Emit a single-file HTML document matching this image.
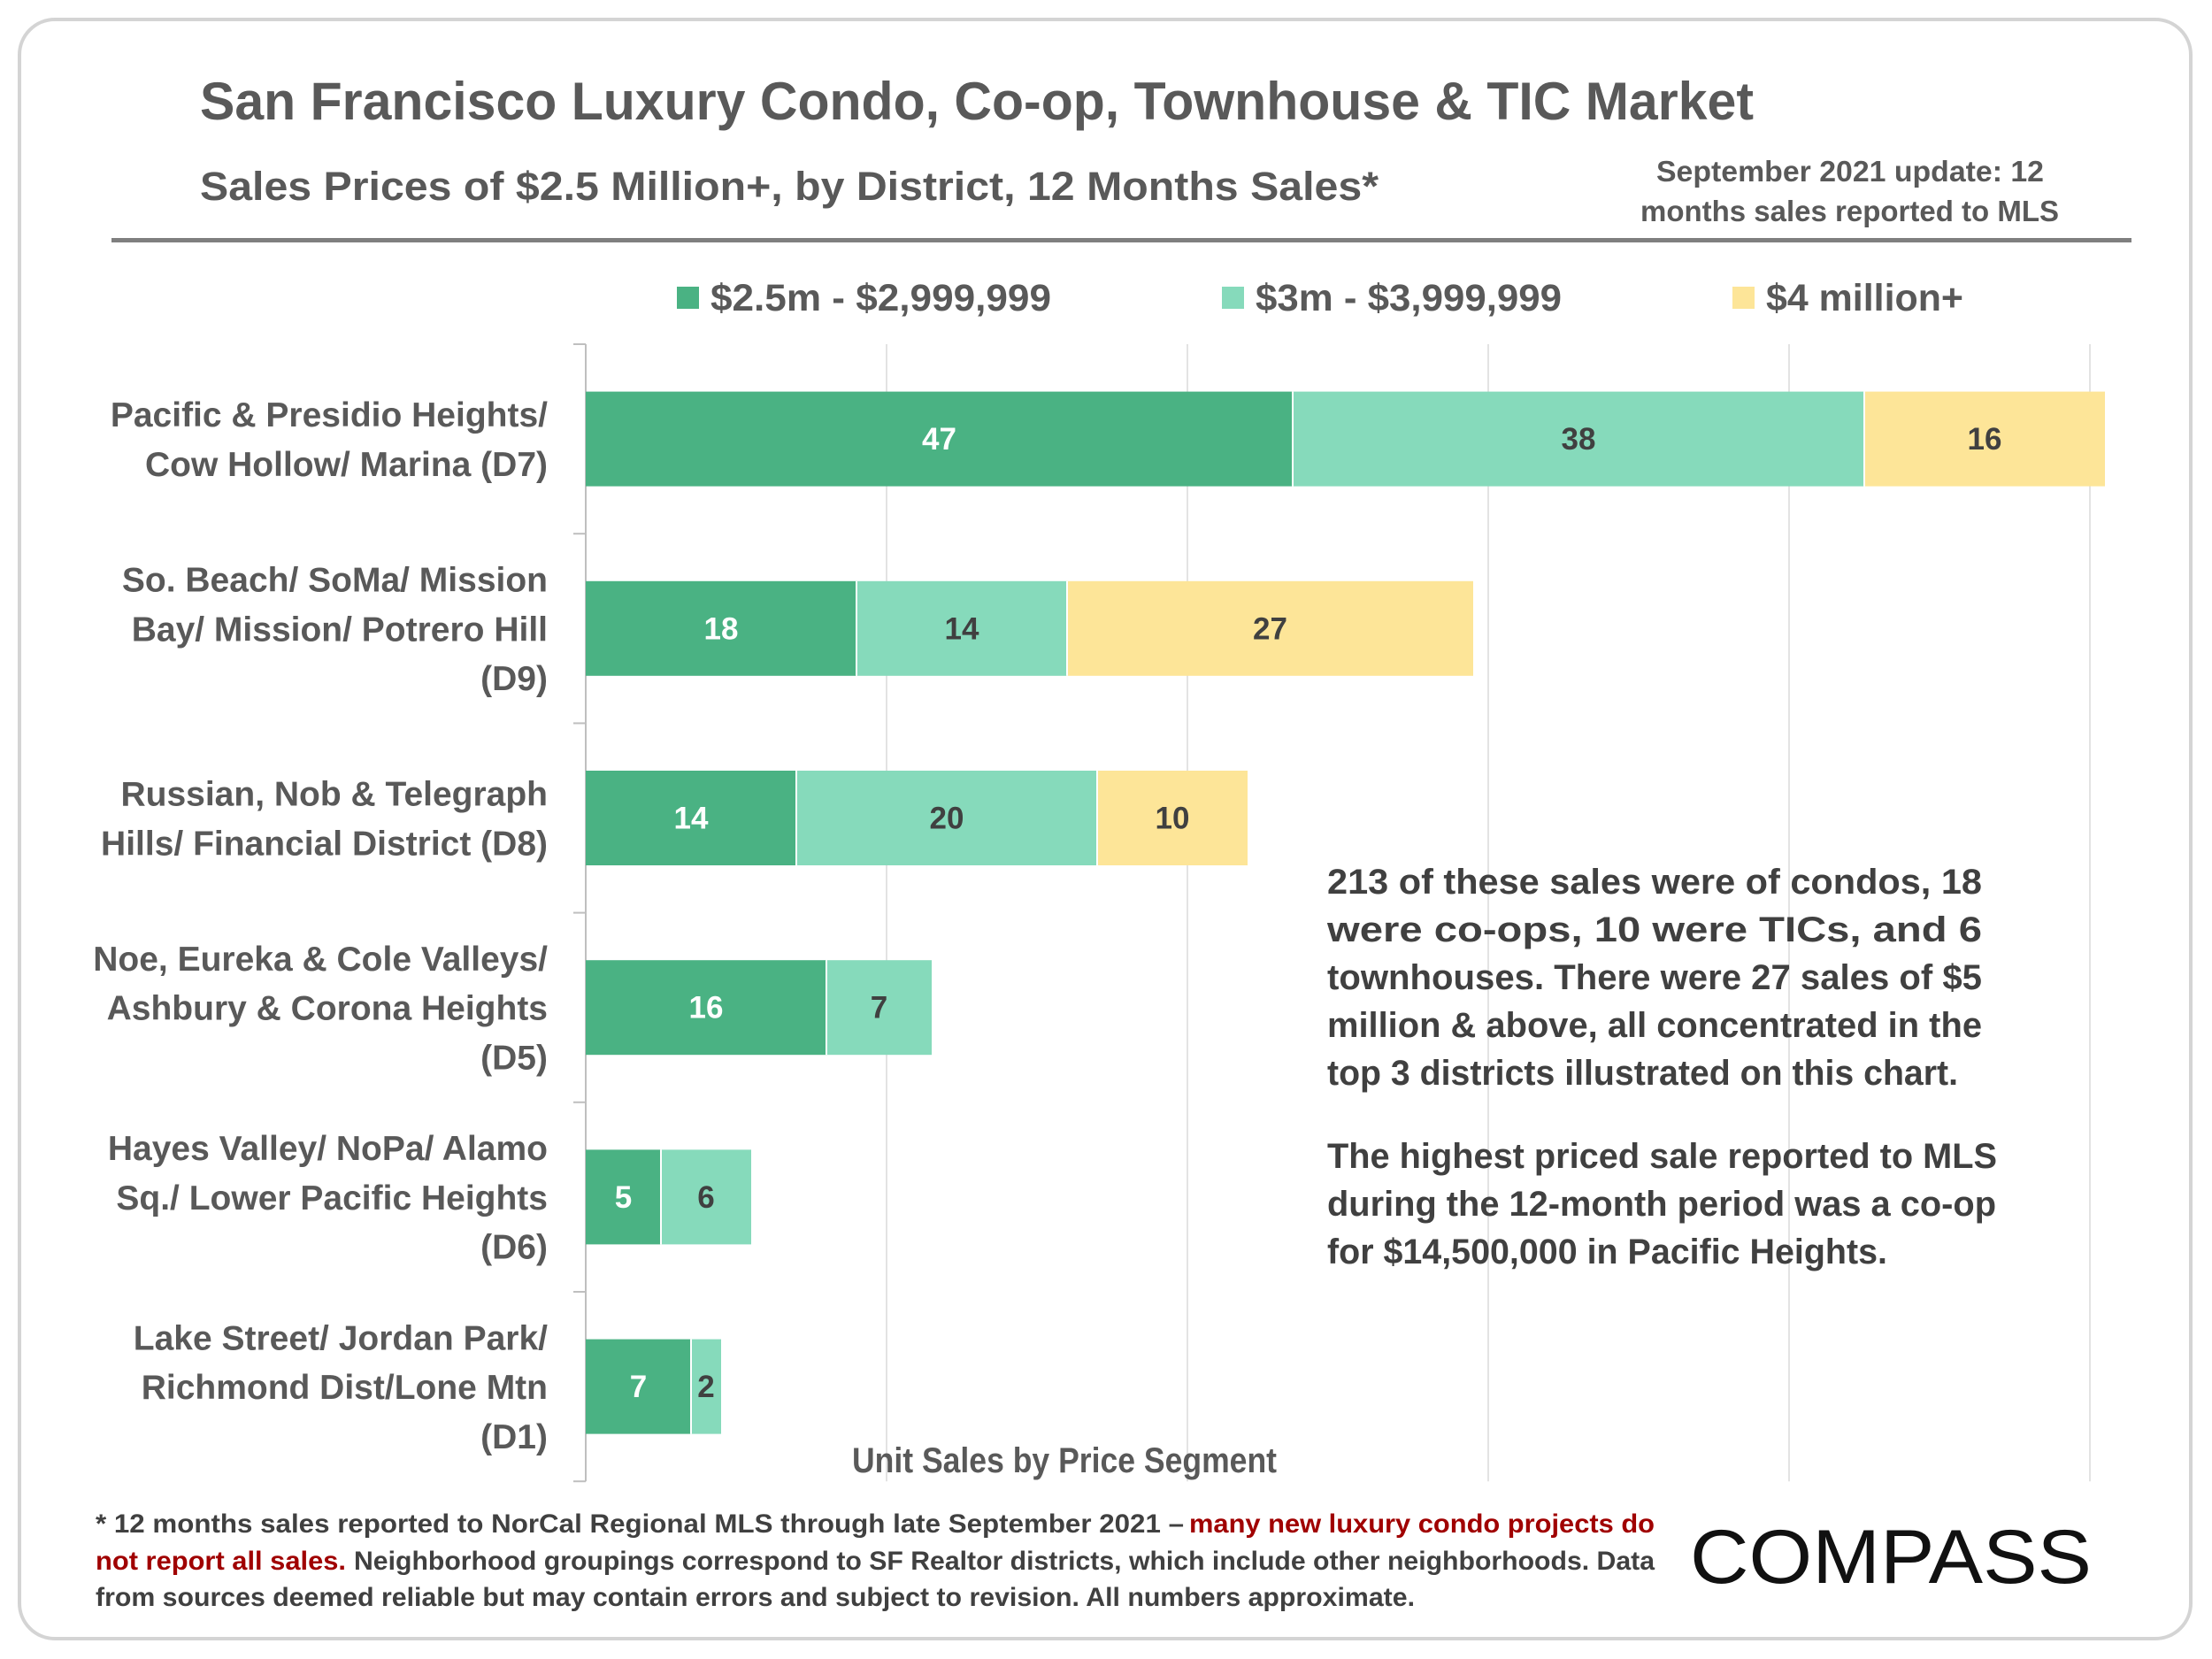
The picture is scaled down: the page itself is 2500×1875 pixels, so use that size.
<!DOCTYPE html>
<html><head><meta charset="utf-8"><style>
html,body{margin:0;padding:0;background:#fff;width:2500px;height:1875px;overflow:hidden}
svg{display:block}
text{font-family:"Liberation Sans",sans-serif}
</style></head><body>
<svg id="chart" width="2500" height="1875" viewBox="0 0 2500 1875" xmlns="http://www.w3.org/2000/svg">
<rect x="22" y="22" width="2454" height="1830" rx="40" fill="#fff" stroke="#d4d4d4" stroke-width="4"/>
<text x="226" y="135" font-size="60" font-weight="bold" fill="#595959" textLength="1756" lengthAdjust="spacingAndGlyphs">San Francisco Luxury Condo, Co-op, Townhouse &amp; TIC Market</text>
<text x="226" y="226" font-size="45" font-weight="bold" fill="#595959" textLength="1332" lengthAdjust="spacingAndGlyphs">Sales Prices of $2.5 Million+, by District, 12 Months Sales*</text>
<text x="1872" y="205" font-size="33" font-weight="bold" fill="#595959" textLength="438" lengthAdjust="spacingAndGlyphs">September 2021 update: 12</text>
<text x="1854" y="250" font-size="33" font-weight="bold" fill="#595959" textLength="473" lengthAdjust="spacingAndGlyphs">months sales reported to MLS</text>
<rect x="126" y="269" width="2283" height="5" fill="#7f7f7f"/>
<g>
<rect x="765" y="324" width="25" height="25" fill="#4AB283"/>
<text x="803" y="351" font-size="43" font-weight="bold" fill="#595959" textLength="385" lengthAdjust="spacingAndGlyphs">$2.5m - $2,999,999</text>
<rect x="1381" y="324" width="25" height="25" fill="#86DABB"/>
<text x="1419" y="351" font-size="43" font-weight="bold" fill="#595959" textLength="346" lengthAdjust="spacingAndGlyphs">$3m - $3,999,999</text>
<rect x="1958" y="324" width="25" height="25" fill="#FDE598"/>
<text x="1996" y="351" font-size="43" font-weight="bold" fill="#595959" textLength="223" lengthAdjust="spacingAndGlyphs">$4 million+</text>
</g>
<g id="plot"></g>
<text x="963" y="1664" font-size="40" font-weight="bold" fill="#595959" textLength="480" lengthAdjust="spacingAndGlyphs">Unit Sales by Price Segment</text>
<g font-size="40" font-weight="bold" fill="#404040">
<text x="1500" y="1010" textLength="740" lengthAdjust="spacingAndGlyphs">213 of these sales were of condos, 18</text>
<text x="1500" y="1064" textLength="740" lengthAdjust="spacingAndGlyphs">were co-ops, 10 were TICs, and 6</text>
<text x="1500" y="1118" textLength="740" lengthAdjust="spacingAndGlyphs">townhouses. There were 27 sales of $5</text>
<text x="1500" y="1172" textLength="740" lengthAdjust="spacingAndGlyphs">million &amp; above, all concentrated in the</text>
<text x="1500" y="1226" textLength="713" lengthAdjust="spacingAndGlyphs">top 3 districts illustrated on this chart.</text>
<text x="1500" y="1320" textLength="757" lengthAdjust="spacingAndGlyphs">The highest priced sale reported to MLS</text>
<text x="1500" y="1374" textLength="756" lengthAdjust="spacingAndGlyphs">during the 12-month period was a co-op</text>
<text x="1500" y="1428" textLength="633" lengthAdjust="spacingAndGlyphs">for $14,500,000 in Pacific Heights.</text>
</g>
<g font-size="30" font-weight="bold" fill="#404040">
<text x="108" y="1732" textLength="1230" lengthAdjust="spacingAndGlyphs">* 12 months sales reported to NorCal Regional MLS through late September 2021 –</text>
<text x="1344" y="1732" fill="#A00000" textLength="526" lengthAdjust="spacingAndGlyphs">many new luxury condo projects do</text>
<text x="108" y="1774" fill="#A00000" textLength="283" lengthAdjust="spacingAndGlyphs">not report all sales.</text>
<text x="400" y="1774" textLength="1470" lengthAdjust="spacingAndGlyphs">Neighborhood groupings correspond to SF Realtor districts, which include other neighborhoods. Data</text>
<text x="108" y="1815" textLength="1491" lengthAdjust="spacingAndGlyphs">from sources deemed reliable but may contain errors and subject to revision. All numbers approximate.</text>
</g>
<text x="1910" y="1789" font-size="86" fill="#111" textLength="454" lengthAdjust="spacingAndGlyphs">COMPASS</text>
</svg>
<script>
const categories = [
  ["Pacific & Presidio Heights/","Cow Hollow/ Marina (D7)"],
  ["So. Beach/ SoMa/ Mission","Bay/ Mission/ Potrero Hill","(D9)"],
  ["Russian, Nob & Telegraph","Hills/ Financial District (D8)"],
  ["Noe, Eureka & Cole Valleys/","Ashbury & Corona Heights","(D5)"],
  ["Hayes Valley/ NoPa/ Alamo","Sq./ Lower Pacific Heights","(D6)"],
  ["Lake Street/ Jordan Park/","Richmond Dist/Lone Mtn","(D1)"]
];
const seg25 = [47, 18, 14, 16, 5, 7];
const seg3 = [38, 14, 20, 7, 6, 2];
const seg4 = [16, 27, 10, 0, 0, 0];
const xTicks = [0, 20, 40, 60, 80, 100];

const NS = "http://www.w3.org/2000/svg";
const X0 = 662, UNIT = 17.0, TOP = 389, BAND = 214.2, BARH = 107;
function xs(v){ return X0 + v*UNIT; }
function bandY(i){ return TOP + i*BAND; }
const plot = document.getElementById('plot');
function mk(tag, attrs){ const e = document.createElementNS(NS, tag); for (const k in attrs) e.setAttribute(k, attrs[k]); return e; }

xTicks.forEach(function(t){
  if (t === 0) return;
  const g = mk('line', {x1:xs(t), x2:xs(t), y1:TOP, y2:TOP+BAND*categories.length, stroke:'#e3e3e3', 'stroke-width':2});
  
  
  plot.appendChild(g);
});
const ax = mk('line', {x1:X0, x2:X0, y1:TOP, y2:TOP+BAND*categories.length, stroke:'#bfbfbf', 'stroke-width':2});


plot.appendChild(ax);
for (let i = 0; i <= categories.length; i++) {
  const tk = mk('line', {x1:X0-14, x2:X0, y1:bandY(i), y2:bandY(i), stroke:'#bfbfbf', 'stroke-width':2});
  
  
  plot.appendChild(tk);
}
const series = [[seg25, '#4AB283', '#ffffff'], [seg3, '#86DABB', '#404040'], [seg4, '#FDE598', '#404040']];
const segNames = ['bar-2-5m', 'bar-3m', 'bar-4m'];
categories.forEach(function(lines, i){
  const cy = bandY(i) + BAND/2;
  lines.forEach(function(ln, j){
    const t = mk('text', {x:619, y:cy + (j-(lines.length-1)/2)*55.8 + 14, 'text-anchor':'end', 'font-size':39, 'font-weight':'bold', fill:'#595959'});
    t.textContent = ln;
    
    
    plot.appendChild(t);
  });
  let acc = 0;
  series.forEach(function(s, k){
    const v = s[0][i];
    if (!v) return;
    const r = mk('rect', {x:xs(acc), y:cy-BARH/2, width:v*UNIT, height:BARH, fill:s[1]});
    
    
    plot.appendChild(r);
    if (k > 0) {
      const sep = mk('line', {x1:xs(acc), x2:xs(acc), y1:cy-BARH/2, y2:cy+BARH/2, stroke:'#ffffff', 'stroke-width':2});
      
      
      plot.appendChild(sep);
    }
    const lbl = mk('text', {x:xs(acc + v/2), y:cy+12, 'text-anchor':'middle', 'font-size':35, 'font-weight':'bold', fill:s[2]});
    lbl.textContent = v;
    
    
    plot.appendChild(lbl);
    acc += v;
  });
});
</script>
</body></html>
